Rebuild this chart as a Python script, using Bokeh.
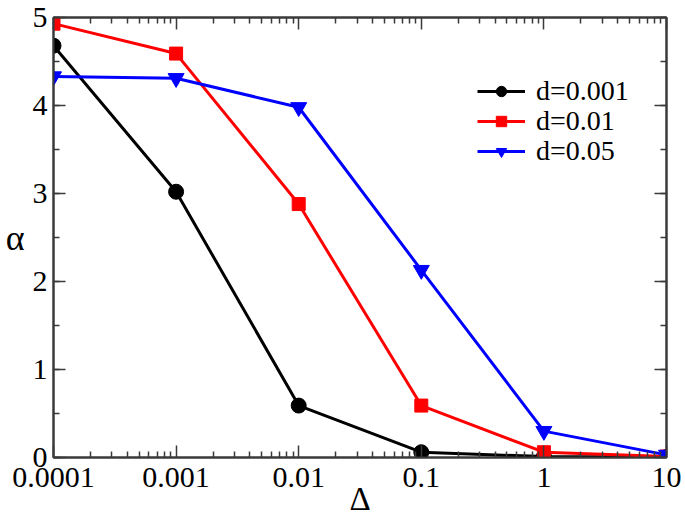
from bokeh.plotting import figure
from bokeh.models import (Range1d, LogAxis, LinearAxis, FixedTicker, Legend,
                          LegendItem, SingleIntervalTicker, CustomJSTickFormatter)
from bokeh.embed import file_html
from bokeh.resources import INLINE

# ---- data ----
delta = [0.0001, 0.001, 0.01, 0.1, 1, 10]
alpha_d0001 = [4.68, 3.02, 0.59, 0.06, 0.01, 0.005]
alpha_d001 = [4.93, 4.59, 2.88, 0.59, 0.06, 0.01]
alpha_d005 = [4.33, 4.31, 3.98, 2.13, 0.30, 0.03]
series_labels = ["d=0.001", "d=0.01", "d=0.05"]
x_tick_values = [0.0001, 0.001, 0.01, 0.1, 1, 10]
x_tick_labels = ["0.0001", "0.001", "0.01", "0.1", "1", "10"]

FONT = "Liberation Serif"
AX_COL = "#3a3a3a"

p = figure(width=685, height=521, x_axis_type="log",
           x_range=Range1d(1e-4, 10), y_range=Range1d(0, 5),
           output_backend="svg", toolbar_location=None,
           min_border_left=53, min_border_top=17, min_border_right=19,
           min_border_bottom=64)
p.grid.visible = False
p.outline_line_color = AX_COL
p.outline_line_width = 2
p.background_fill_color = "white"
p.border_fill_color = "white"

minor = [m * 10.0 ** k for k in range(-4, 1) for m in range(2, 10)]
xticker = FixedTicker(ticks=x_tick_values, minor_ticks=minor)
yticker = SingleIntervalTicker(interval=1, num_minor_ticks=2)


def style(ax):
    ax.axis_line_color = AX_COL
    ax.axis_line_width = 2
    ax.major_tick_line_color = AX_COL
    ax.minor_tick_line_color = AX_COL
    ax.major_tick_line_width = 1.5
    ax.minor_tick_line_width = 1.5
    ax.major_tick_in = 12
    ax.major_tick_out = 0
    ax.minor_tick_in = 6
    ax.minor_tick_out = 0
    ax.major_label_text_font = FONT
    ax.major_label_text_font_size = "30px"
    ax.major_label_text_color = "black"
    ax.axis_label_text_font = FONT
    ax.axis_label_text_font_style = "normal"
    ax.axis_label_text_color = "black"


xa = p.xaxis[0]
xa.ticker = xticker
xa.major_label_overrides = dict(zip(x_tick_values, x_tick_labels))
style(xa)
xa.major_label_standoff = 10
xa.axis_label = "Δ"
xa.axis_label_text_font_size = "33px"
xa.axis_label_standoff = -9

ya = p.yaxis[0]
ya.ticker = yticker
style(ya)
ya.major_label_standoff = 6
ya.axis_label = "α"
ya.axis_label_orientation = "horizontal"
ya.axis_label_text_font_size = "36px"
ya.axis_label_standoff = 5

empty = CustomJSTickFormatter(code="return ''")
top = LogAxis(ticker=xticker, formatter=empty)
style(top)
top.major_label_standoff = 0
top.major_label_text_font_size = "1px"
p.add_layout(top, "above")
right = LinearAxis(ticker=yticker, formatter=empty)
style(right)
right.major_label_standoff = 0
right.major_label_text_font_size = "1px"
p.add_layout(right, "right")

specs = [(alpha_d0001, "black", "circle", 15, 350),
         (alpha_d001, "red", "square", 13, 320),
         (alpha_d005, "blue", "inverted_triangle", 16, 290)]
for (vals, col, mk, sz, ly), lab in zip(specs, series_labels):
    lr = p.line(delta, vals, line_color=col, line_width=3)
    sr = p.scatter(delta, vals, marker=mk, size=sz, fill_color=col, line_color=col)
    lg = Legend(items=[LegendItem(label=lab, renderers=[lr, sr])], location=(424, ly))
    lg.background_fill_alpha = 0
    lg.border_line_color = None
    lg.padding = 0
    lg.margin = 0
    lg.spacing = 0
    lg.glyph_width = 48
    lg.glyph_height = 26
    lg.label_height = 26
    lg.label_standoff = 11
    lg.label_text_font = FONT
    lg.label_text_font_size = "28px"
    lg.label_text_color = "black"
    p.add_layout(lg)

open("out.html", "w").write(file_html(p, INLINE))
